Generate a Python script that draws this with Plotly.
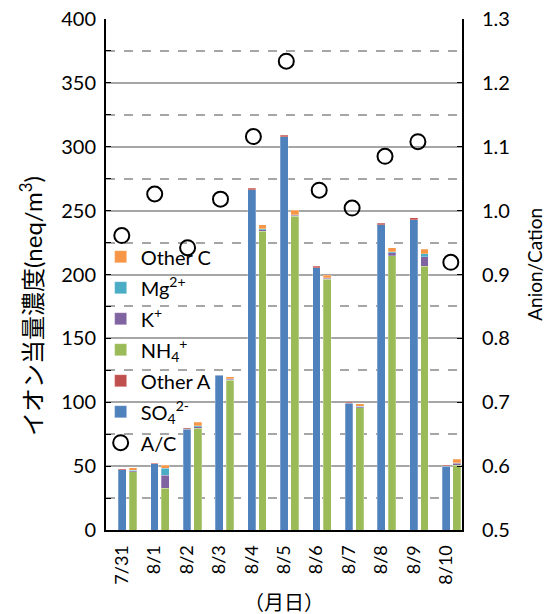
import plotly.graph_objects as go

# Sampling dates
dates = ["7/31", "8/1", "8/2", "8/3", "8/4", "8/5", "8/6", "8/7", "8/8", "8/9", "8/10"]

# Anion components (neq/m3)
so4 = [47.0, 51.9, 78.8, 121.0, 266.2, 307.7, 205.2, 99.1, 239.1, 243.0, 50.1]
other_a = [1.0, 0.3, 1.0, 0.7, 1.3, 1.3, 1.3, 1.0, 1.0, 1.3, 0.7]

# Cation components (neq/m3)
nh4 = [45.6, 32.6, 79.5, 117.3, 233.9, 245.6, 196.1, 95.7, 214.6, 206.5, 50.8]
k_ion = [0.8, 10.4, 1.5, 0.8, 1.2, 0.7, 1.0, 0.8, 2.4, 7.3, 1.3]
mg = [0.5, 5.2, 0.5, 0.4, 0.6, 0.4, 0.5, 0.4, 0.8, 2.6, 0.6]
other_c = [2.0, 2.6, 3.0, 1.3, 3.1, 3.6, 2.0, 2.0, 3.0, 3.4, 2.6]

# Anion / cation ratio
ac_ratio = [0.961, 1.026, 0.942, 1.018, 1.116, 1.234, 1.032, 1.004, 1.085, 1.108, 0.919]

FONT = "Lato, 'Noto Sans CJK JP', sans-serif"
BAR_W = 0.24
idx = list(range(len(dates)))
x_anion = [i for i in idx]
x_cation = [i + 0.33 for i in idx]

fig = go.Figure()

def add_bar(x, y, name, color, rank):
    fig.add_trace(go.Bar(
        x=x, y=y, name=name, width=BAR_W, legendgroup=name,
        marker=dict(color=color, line=dict(color="rgba(255,255,255,0.5)", width=0.5)),
        legendrank=rank,
    ))

add_bar(x_anion, so4, "SO<sub>4</sub><sup>2-</sup>", "#4F81BD", 6)
add_bar(x_anion, other_a, "Other A", "#C0504D", 5)
add_bar(x_cation, nh4, "NH<sub>4</sub><sup>+</sup>", "#9BBB59", 4)
add_bar(x_cation, k_ion, "K<sup>+</sup>", "#8064A2", 3)
add_bar(x_cation, mg, "Mg<sup>2+</sup>", "#4BACC6", 2)
add_bar(x_cation, other_c, "Other C", "#F79646", 1)

fig.add_trace(go.Scatter(
    x=idx, y=ac_ratio, name="A/C", mode="markers", legendgroup="ac",
    xaxis="x2", yaxis="y2",
    marker=dict(symbol="circle-open", size=15, color="black", line=dict(width=2)),
    legendrank=7,
))

grid_col = "#A6A6A6"
fig.update_layout(
    width=550, height=614,
    margin=dict(l=106, r=88, t=19, b=84),
    paper_bgcolor="white", plot_bgcolor="white",
    barmode="stack",
    font=dict(family=FONT, size=20, color="black"),
    showlegend=True,
    legend=dict(
        x=-0.015, y=0.573, xanchor="left", yanchor="top",
        bgcolor="rgba(0,0,0,0)", font=dict(size=20),
        traceorder="grouped", tracegroupgap=2, itemwidth=30,
    ),
    xaxis=dict(
        range=[-0.5, 10.49], tickvals=idx, ticktext=dates, tickangle=-90,
        showgrid=False, showline=True, linecolor="black", linewidth=2,
        ticks="", zeroline=False, automargin=False, tickfont=dict(size=18),
        ticklabelstandoff=6,
        title=dict(text="（月日）", font=dict(size=20), standoff=14),
    ),
    xaxis2=dict(range=[-0.48, 10.34], overlaying="x", visible=False),
    yaxis=dict(
        range=[0, 400], dtick=50, showgrid=True, gridcolor=grid_col, gridwidth=1.5,
        showline=True, linecolor="black", linewidth=2,
        ticks="inside", ticklen=5, tickcolor="black",
        minor=dict(dtick=25, showgrid=True, gridcolor=grid_col, gridwidth=1.5,
                   griddash="dash", ticks="inside", ticklen=5, tickcolor="black"),
        zeroline=False, ticklabelstandoff=4, automargin=False,
    ),
    yaxis2=dict(
        range=[0.5, 1.3], dtick=0.1, tickformat=".1f", overlaying="y", side="right",
        showgrid=False, showline=True, linecolor="black", linewidth=2,
        ticks="inside", ticklen=5, tickcolor="black", zeroline=False,
        ticklabelstandoff=14, automargin=False,
    ),
    annotations=[
        dict(
            text="イオン当量濃度(neq/m<sup>3</sup>)", textangle=-90,
            xref="paper", yref="paper", x=-0.211, y=0.438,
            xanchor="center", yanchor="middle", showarrow=False,
            font=dict(size=24),
        ),
        dict(
            text="Anion/Cation", textangle=-90, xref="paper", yref="paper",
            x=1.205, y=0.521, xanchor="center", yanchor="middle", showarrow=False,
            font=dict(size=19),
        ),
    ],
)

fig.write_html("out.html")
